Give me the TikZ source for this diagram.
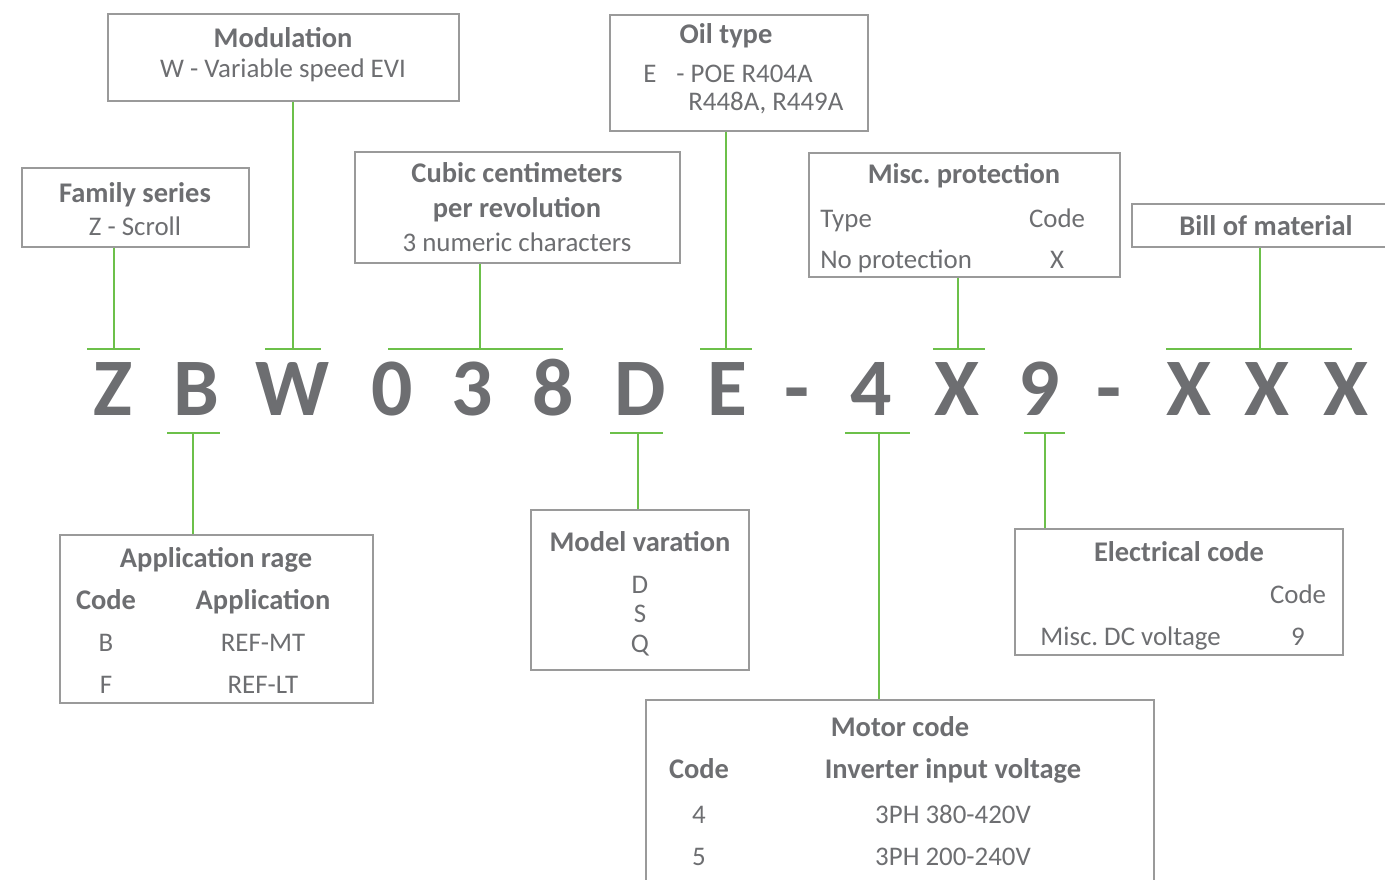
\documentclass[tikz,border=0pt]{standalone}
\usepackage{fontspec}
\setmainfont{Carlito}
\usetikzlibrary{fit}
\definecolor{txtgrey}{HTML}{6D6E71}
\definecolor{boxgrey}{HTML}{9A9A9A}
\definecolor{codegreen}{HTML}{6CC04A}
\frenchspacing

\begin{document}
\begin{tikzpicture}[x=0.02cm,y=-0.02cm,
      every node/.style={inner sep=0pt,text=txtgrey,font=\fontsize{15.3}{18}\selectfont},
      box/.style={draw=boxgrey,line width=0.8pt,fit={#1}},
      ttl/.style={font=\fontsize{16.2}{18}\selectfont\bfseries,anchor=base},
      txt/.style={anchor=base},
      txtl/.style={anchor=base west},
      chr/.style={font=\fontsize{46.5}{50}\selectfont\bfseries,anchor=base},
      conn/.style={draw=codegreen,line width=1.6pt}]
  \useasboundingbox(0,0)rectangle(1385,879);
  % the code itself
  \foreach \c/\x [count=\i] in {Z/113,B/196,W/293,0/392,3/472,8/553,D/640,E/727,
      -/797,4/871,X/957,9/1039,-/1109,X/1189,X/1267,X/1346}
    \node[chr](c\i)at(\x,415){\c};
  % boxes above
  \node[box={(22,168)(249,247)}](fam){};
  \node[box={(108,14)(459,101)}](mod){};
  \node[box={(355,152)(680,263)}](cub){};
  \node[box={(610,15)(868,131)}](oil){};
  \node[box={(809,153)(1120,277)}](misc){};
  \node[box={(1132,204)(1395,247)}](bill){};
  % boxes below
  \node[box={(60,535)(373,703)}](app){};
  \node[box={(531,510)(749,670)}](mv){};
  \node[box={(1015,529)(1343,655)}](ele){};
  \node[box={(646,700)(1154,890)}](mot){};
  % connectors
  \foreach \n/\m/\a/\b in {fam/114/87/140,mod/293/265/321,cub/480/388/563,oil/726/700/752,
      misc/958/933/985,bill/1260/1166/1352}{
    \coordinate(t\n)at(\m,349);
    \draw[conn](\a,349)--(\b,349);
    \draw[conn](t\n|-\n.south)--(t\n);}
  \foreach \n/\m/\a/\b in {app/193/167/220,mv/638/610/663,mot/879/845/910,ele/1045/1024/1065}{
    \coordinate(b\n)at(\m,433);
    \draw[conn](\a,433)--(\b,433);
    \draw[conn](b\n|-\n.north)--(b\n);}
  % texts
  \node[ttl](famT)at(135,202){Family series};
  \node[txt](famA)at(135,235){Z - Scroll};
  \node[ttl](modT)at(283,47){Modulation};
  \node[txt](modA)at(283,77){W - Variable speed EVI};
  \node[ttl](cubT)at(517,182){Cubic centimeters};
  \node[ttl](cubU)at(517,217){per revolution};
  \node[txt](cubA)at(517,251){3 numeric characters};
  \node[ttl](oilT)at(726,43){Oil type};
  \node[txtl](oilE)at(643,82){E};
  \node[txtl](oilA)at(676,82){- POE R404A};
  \node[txtl](oilB)at(688,110){R448A, R449A};
  \node[ttl](miscT)at(964,183){Misc. protection};
  \node[txtl](miscA)at(820,227){Type};
  \node[txt](miscB)at(1057,227){Code};
  \node[txtl](miscC)at(820,268){No protection};
  \node[txt](miscD)at(1057,268){X};
  \node[ttl](billT)at(1266,235){Bill of material};
  \node[ttl](appT)at(216,567){Application rage};
  \node[ttl](appA)at(106,609){Code};
  \node[ttl](appB)at(263,609){Application};
  \foreach \k/\v/\y [count=\i] in {B/REF-MT/651,F/REF-LT/693}{
    \node[txt](appK\i)at(106,\y){\k};
    \node[txt](appV\i)at(263,\y){\v};}
  \node[ttl](mvT)at(640,551){Model varation};
  \foreach \k/\y [count=\i] in {D/593,S/622,Q/652}
    \node[txt](mvK\i)at(640,\y){\k};
  \node[ttl](eleT)at(1179,561){Electrical code};
  \node[txt](eleA)at(1298,603){Code};
  \node[txtl](eleB)at(1040,645){Misc. DC voltage};
  \node[txt](eleC)at(1298,645){9};
  \node[ttl](motT)at(900,736){Motor code};
  \node[ttl](motA)at(699,778){Code};
  \node[ttl](motB)at(953,778){Inverter input voltage};
  \foreach \k/\v/\y [count=\i] in {4/3PH 380-420V/823,5/3PH 200-240V/865}{
    \node[txt](motK\i)at(699,\y){\k};
    \node[txt](motV\i)at(953,\y){\v};}
\end{tikzpicture}
\end{document}
